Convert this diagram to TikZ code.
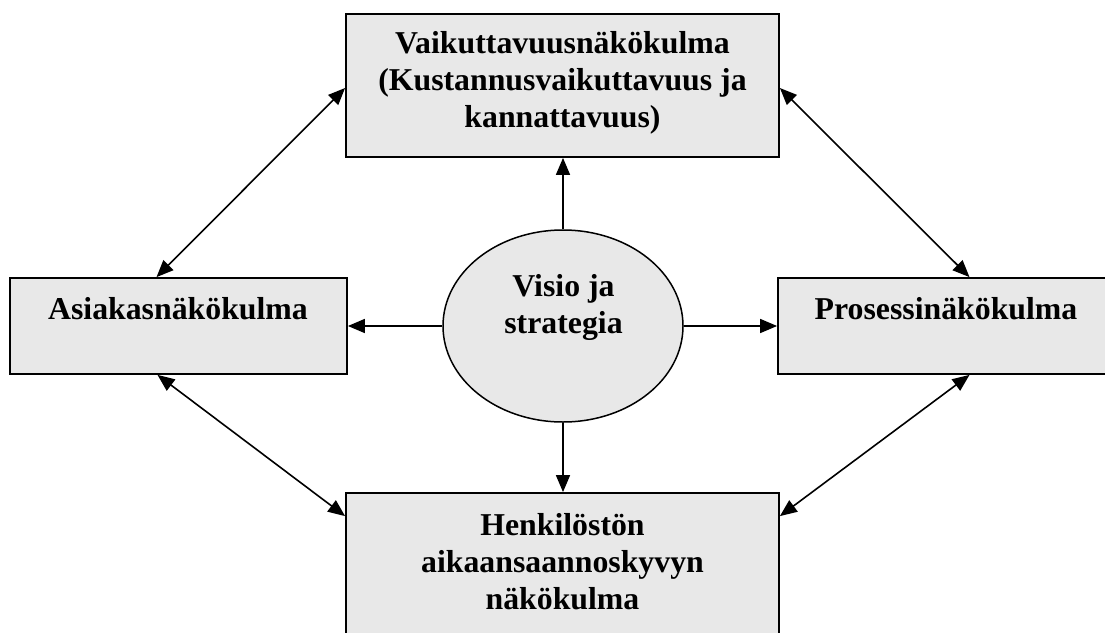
\documentclass[tikz,border=0pt]{standalone}
\usepackage{fontspec}
\setmainfont{Liberation Serif}
\usetikzlibrary{calc,arrows.meta,shapes.geometric}

\begin{document}
\begin{tikzpicture}[x=1pt,y=-1pt,
    panel/.style={draw=black,line width=1.8pt,fill=boxgray,rectangle,inner sep=0pt},
    hub/.style={draw=black,line width=1.5pt,fill=boxgray,ellipse,inner sep=0pt,
                minimum width=240pt,minimum height=192pt},
    caption/.style={anchor=base,inner sep=0pt,
                    font=\fontsize{31.8}{37}\selectfont\bfseries},
    tip/.tip={Triangle[length=17pt,width=14pt]},
    link/.style={line width=1.6pt,tip-tip},
    spoke/.style={line width=1.6pt,-tip}]
\definecolor{boxgray}{HTML}{E8E8E8}

\useasboundingbox (0,0) rectangle (1105,632);
\clip (0,0) rectangle (1105,632);

% the four perspective boxes and the central ellipse
\node[panel,minimum width=433pt,minimum height=143pt] (top) at (562.5,85.5) {};
\node[panel,minimum width=337pt,minimum height=96pt]  (lbox) at (178.5,326) {};
\node[panel,minimum width=337pt,minimum height=96pt]  (rbox) at (946.5,326) {};
\node[panel,minimum width=433pt,minimum height=143pt] (bot) at (562.5,564.5) {};
\node[hub] (vis) at (563,326) {};

% labels
\node[caption] (toptext) at (562.5,53) {\begin{tabular}[t]{@{}c@{}}Vaikuttavuusnäkökulma\\(Kustannusvaikuttavuus ja\\kannattavuus)\end{tabular}};
\node[caption] (ltext) at (178,319) {Asiakasnäkökulma};
\node[caption] (rtext) at (946,319) {Prosessinäkökulma};
\node[caption] (vistext) at (563.5,296) {\begin{tabular}[t]{@{}c@{}}Visio ja\\strategia\end{tabular}};
\node[caption] (bottext) at (562.5,535) {\begin{tabular}[t]{@{}c@{}}Henkilöstön\\aikaansaannoskyvyn\\näkökulma\end{tabular}};

% arrows from the vision to every perspective
\draw[spoke] (vis.north) -- (top.south -| vis.north);
\draw[spoke] (vis.south) -- (bot.north -| vis.south);
\draw[spoke] (vis.west) -- (lbox.east);
\draw[spoke] (vis.east) -- (rbox.west);

% two-way links round the outside
\draw[link] ($(lbox.north)+(-22,0)$) -- ($(top.west)+(0,2.5)$);
\draw[link] ($(top.east)+(0,2.5)$) -- ($(rbox.north)+(23,0)$);
\draw[link] ($(lbox.south)+(-21,0)$) -- ($(bot.north west)+(0,24)$);
\draw[link] ($(rbox.south)+(23,0)$) -- ($(bot.north east)+(0,24)$);
\end{tikzpicture}
\end{document}
